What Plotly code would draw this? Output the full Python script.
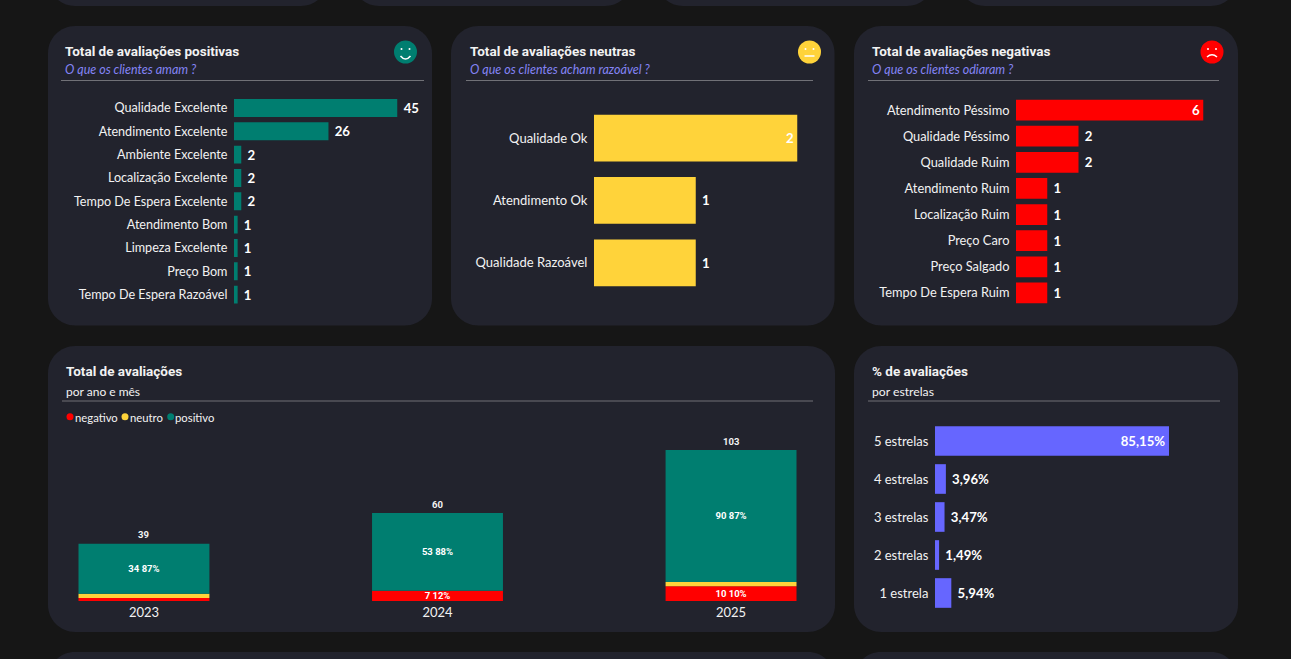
import plotly.graph_objects as go

W, H = 1291, 659

# ---- data ----
pos_cats = ["Qualidade Excelente", "Atendimento Excelente", "Ambiente Excelente", "Localização Excelente",
            "Tempo De Espera Excelente", "Atendimento Bom", "Limpeza Excelente", "Preço Bom", "Tempo De Espera Razoável"]
pos_vals = [45, 26, 2, 2, 2, 1, 1, 1, 1]
neu_cats = ["Qualidade Ok", "Atendimento Ok", "Qualidade Razoável"]
neu_vals = [2, 1, 1]
neg_cats = ["Atendimento Péssimo", "Qualidade Péssimo", "Qualidade Ruim", "Atendimento Ruim", "Localização Ruim",
            "Preço Caro", "Preço Salgado", "Tempo De Espera Ruim"]
neg_vals = [6, 2, 2, 1, 1, 1, 1, 1]
years = ["2023", "2024", "2025"]
year_neg = [2, 7, 10]
year_neu = [3, 0, 3]
year_pos = [34, 53, 90]
year_neg_text = ["", "7 12%", "10 10%"]
year_neu_text = ["", "", ""]
year_pos_text = ["34 87%", "53 88%", "90 87%"]
year_total = [39, 60, 103]
star_cats = ["5 estrelas", "4 estrelas", "3 estrelas", "2 estrelas", "1 estrela"]
star_vals = [85.15, 3.96, 3.47, 1.49, 5.94]
star_text = ["85,15%", "3,96%", "3,47%", "1,49%", "5,94%"]

# ---- style ----
BG = "#161616"; PANEL = "#22232D"; TEAL = "#007E70"; YEL = "#FFD33A"; RED = "#FF0000"; PUR = "#6666FF"
SUB = "#8484F5"; LINE = "#717177"; WHITE = "#FFFFFF"; TXT = "#F2F2F2"
LABEL_FONT = "Lato"; VALUE_FONT = "Lato"; SMALL_FONT = "Roboto"; TITLE_FONT = "Roboto"


def px(x): return x / W
def py(y): return 1 - y / H


def rrect(x0, y0, x1, y1, r=27):
    a, b, c, d = px(x0), py(y0), px(x1), py(y1)
    rx, ry = r / W, r / H
    k = 0.45
    return (f"M{a+rx},{b} L{c-rx},{b} C{c-k*rx},{b} {c},{b-k*ry} {c},{b-ry} L{c},{d+ry} C{c},{d+k*ry} {c-k*rx},{d} {c-rx},{d} "
            f"L{a+rx},{d} C{a+k*rx},{d} {a},{d+k*ry} {a},{d+ry} L{a},{b-ry} C{a},{b-k*ry} {a+k*rx},{b} {a+rx},{b} Z")


shapes, annos = [], []
for box in [(48, -30, 328, 6), (352, -30, 632, 6), (656, -30, 934, 6), (958, -30, 1238, 6),
            (48, 26, 432, 325.5), (451, 26, 834.5, 325.5), (854, 26, 1238, 325.5),
            (48, 346, 835, 632), (854, 346, 1238, 632), (48, 652, 835, 700), (854, 652, 1238, 700)]:
    shapes.append(dict(type="path", path=rrect(*box), xref="paper", yref="paper", fillcolor=PANEL,
                       line_width=0, layer="below"))


def text(x, y, s, size, color, font=LABEL_FONT, xanchor="left"):
    annos.append(dict(x=px(x - 1.3), y=py(y), xref="paper", yref="paper", text=s, showarrow=False, xanchor=xanchor,
                      yanchor="middle", font=dict(family=font, size=size, color=color), borderpad=0, align="left"))


def rule(x0, x1, y):
    shapes.append(dict(type="line", x0=px(x0), x1=px(x1), y0=py(y), y1=py(y), xref="paper", yref="paper",
                       line=dict(color=LINE, width=1)))


def dot(cx, cy, r, color):
    shapes.append(dict(type="circle", x0=px(cx - r), x1=px(cx + r), y0=py(cy + r), y1=py(cy - r), xref="paper",
                       yref="paper", fillcolor=color, line_width=0))


def icon(cx, cy, color, mood):
    dot(cx, cy, 11.5, color)
    for dx in (-4, 4):
        dot(cx + dx, cy - 3, 1, WHITE)
    ctrl = {"smile": 10, "flat": 4, "sad": 0.5}[mood]
    ends = {"smile": 4, "flat": 4, "sad": 5}[mood]
    d = f"M{px(cx-5)},{py(cy+ends)} Q{px(cx)},{py(cy+ctrl)} {px(cx+5)},{py(cy+ends)}"
    shapes.append(dict(type="path", path=d, xref="paper", yref="paper", line=dict(color=WHITE, width=1.5)))


fig = go.Figure()
layout_axes = {}


def hbar(idx, cats, vals, color, x0, x1, xmax, y0, y1, ratio, inside=(0,), labels=None, vsize=13.2, lsize=12.6):
    sx = "" if idx == 1 else str(idx)
    labels = labels if labels is not None else [str(v) for v in vals]
    shown = [(l + "\u200a") if i in inside else ("\u00a0" + l) for i, l in enumerate(labels)]
    fig.add_trace(go.Bar(
        y=cats, x=vals, orientation="h", xaxis="x" + sx, yaxis="y" + sx, marker=dict(color=color, line_width=0),
        width=ratio, text=shown, cliponaxis=False, constraintext="none", textangle=0,
        textposition=["inside" if i in inside else "outside" for i in range(len(vals))],
        insidetextanchor="end", textfont=dict(family=VALUE_FONT, size=vsize, color=WHITE, weight="bold"),
        showlegend=False, hoverinfo="skip"))
    layout_axes["xaxis" + sx] = dict(domain=[px(x0), px(x1)], range=[0, xmax], visible=False, anchor="y" + sx, fixedrange=True)
    layout_axes["yaxis" + sx] = dict(domain=[py(y1), py(y0)], type="category", categoryorder="array", categoryarray=cats,
                                     range=[len(cats) - 0.5, -0.5], anchor="x" + sx, showgrid=False, zeroline=False,
                                     showline=False, ticks="outside", ticklen=3, tickcolor="rgba(0,0,0,0)",
                                     tickfont=dict(family=LABEL_FONT, size=lsize, color=TXT), fixedrange=True)


hbar(1, pos_cats, pos_vals, TEAL, 234, 397.5, 45, 96.3, 306.3, 0.77, inside=())
hbar(2, neu_cats, neu_vals, YEL, 594, 797.5, 2, 107, 294, 0.75, lsize=13)
hbar(3, neg_cats, neg_vals, RED, 1016, 1203.5, 6, 97, 306, 0.79, lsize=12.8)
hbar(4, star_cats, star_vals, PUR, 935, 1169, 85.15, 422, 612, 0.78, labels=star_text, lsize=13)

# stacked chart
for vals, color, label in [(year_neg, RED, year_neg_text), (year_neu, YEL, year_neu_text), (year_pos, TEAL, year_pos_text)]:
    fig.add_trace(go.Bar(x=years, y=vals, xaxis="x5", yaxis="y5", marker=dict(color=color, line_width=0), width=0.446,
                         text=label, textposition="inside", insidetextanchor="middle", constraintext="none", textangle=0,
                         textfont=dict(family=SMALL_FONT, size=9.5, color=WHITE, weight="bold"),
                         showlegend=False, hoverinfo="skip", cliponaxis=False))
for i, tot in enumerate(year_total):
    annos.append(dict(x=i, y=tot, xref="x5", yref="y5", text=f"<b>{tot}</b>", showarrow=False, yanchor="middle", yshift=9,
                      font=dict(family=SMALL_FONT, size=9.5, color=TXT)))
layout_axes["xaxis5"] = dict(domain=[px(78), px(797)], type="category", range=[-0.2247, 2.2247], anchor="y5", showgrid=False,
                             zeroline=False, showline=False, ticks="", ticklabelstandoff=2,
                             tickfont=dict(family=LABEL_FONT, size=13, color=TXT), fixedrange=True)
layout_axes["yaxis5"] = dict(domain=[py(601), py(450)], range=[0, 103], visible=False, anchor="x5", fixedrange=True)

# titles
T = 13.5
S = 12.5
text(65, 50.5, "<b>Total de avaliações positivas</b>", T, TXT, TITLE_FONT)
text(65, 69.5, "<i>O que os clientes amam ?</i>", S, SUB)
rule(61, 424, 80.5)
text(470, 50.5, "<b>Total de avaliações neutras</b>", T, TXT, TITLE_FONT)
text(470, 69.5, "<i>O que os clientes acham razoável ?</i>", S, SUB)
rule(466, 813, 80.5)
text(872, 50.5, "<b>Total de avaliações negativas</b>", T, TXT, TITLE_FONT)
text(872, 69.5, "<i>O que os clientes odiaram ?</i>", S, SUB)
rule(868, 1219, 80.5)
text(66, 371, "<b>Total de avaliações</b>", T, TXT, TITLE_FONT)
text(66, 391, "por ano e mês", 12, TXT)
rule(62, 813, 401)
text(872, 371, "<b>% de avaliações</b>", T, TXT, TITLE_FONT)
text(872, 391, "por estrelas", 12.2, TXT)
rule(868, 1220, 401)

icon(405.5, 52, TEAL, "smile")
icon(809.5, 52, YEL, "flat")
icon(1212, 52, RED, "sad")

# legend
for lx, color, name in [(70, RED, "negativo"), (125, YEL, "neutro"), (170.7, TEAL, "positivo")]:
    dot(lx, 416.7, 3.5, color)
    text(lx + 5, 417, name, 11.3, TXT)

fig.update_layout(width=W, height=H, margin=dict(l=0, r=0, t=0, b=0), paper_bgcolor=BG, plot_bgcolor="rgba(0,0,0,0)",
                  barmode="relative", shapes=shapes, annotations=annos, showlegend=False, **layout_axes)
fig.write_html("out.html", config=dict(displayModeBar=False),
               post_script="document.body.style.margin='0';document.body.style.overflow='hidden';document.body.style.background='#161616';")
